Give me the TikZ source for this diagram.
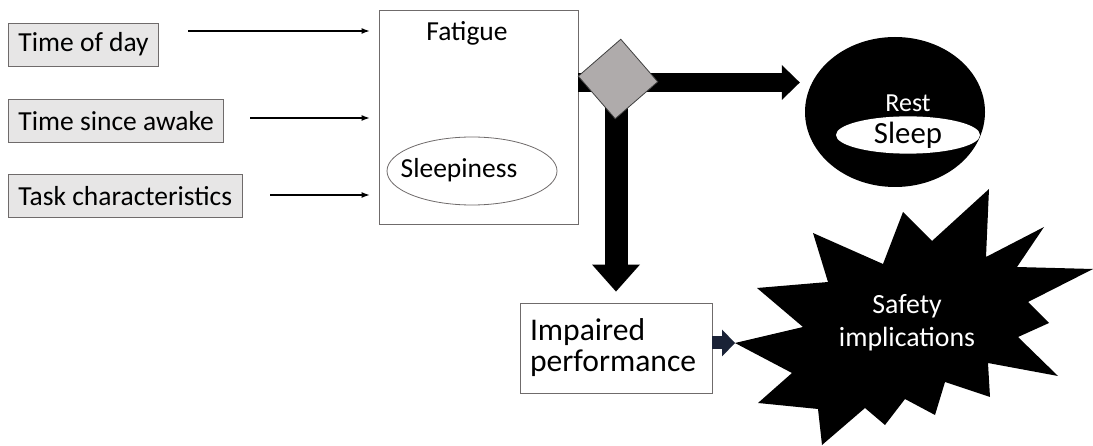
\documentclass[tikz,border=0pt]{standalone}
\usepackage{fontspec}
\setmainfont{Carlito}
\usepackage{xcolor}
\usepackage{tikz}
\usetikzlibrary{arrows.meta,positioning,shapes.geometric}
\definecolor{Stone}{HTML}{E7E6E6}
\definecolor{Edge}{HTML}{6F6B6B}
\definecolor{Pewter}{HTML}{AFABAB}
\definecolor{Ink}{HTML}{1A2236}

\begin{document}
\begin{tikzpicture}[
    x=1pt,y=-1pt,
    factor/.style={draw=Edge,line width=0.9pt,fill=Stone,inner xsep=10pt,inner ysep=0pt,
      minimum height=43pt,font=\fontsize{27.5}{30}\selectfont},
    framebox/.style={draw=Edge,line width=0.9pt,fill=white,inner sep=0pt},
    feed/.style={-{Latex[length=8pt,width=6pt]},line width=1.1pt,shorten >=9pt},
    bigarrow/.style={line width=#1,draw=black},
    restball/.style={ellipse,fill=black,inner sep=0pt,minimum width=180pt,minimum height=150pt},
    label/.style={font=\fontsize{27.5}{30}\selectfont,inner sep=0pt}
]
\useasboundingbox (0,0) rectangle (1093,446);

\node[factor,anchor=west] (tod) at (8,44.5) {Time of day};
\node[factor,below right=33pt and 0pt of tod.south west] (tsa) {Time since awake};
\node[factor,below right=31pt and 0pt of tsa.south west] (task) {Task characteristics};

\node[framebox,minimum width=199pt,minimum height=214pt] (fatigue) at (478.5,117) {};
\node[label] (fatiguetitle) at (467,33) {Fatigue};
\node[ellipse,draw=Edge,line width=0.8pt,inner sep=0pt,minimum width=170pt,
  minimum height=68pt] (sleepiness) at (472,171) {};
\node[label] (sleepinesstext) at (459,170) {Sleepiness};

\coordinate (f1) at (188,31);
\coordinate (f2) at (250,118);
\coordinate (f3) at (270,195);
\draw[feed] (f1) -- (f1 -| fatigue.west);
\draw[feed] (f2) -- (f2 -| fatigue.west);
\draw[feed] (f3) -- (f3 -| fatigue.west);

\node[restball] (rest) at (895,112) {};
\node[label,text=white,font=\fontsize{26}{28}\selectfont] (resttext) at (908,103) {Rest};
\node[ellipse,fill=white,inner sep=0pt,minimum width=144pt,minimum height=35pt,
  font=\fontsize{30.8}{32}\selectfont] (sleep) at (908,135) {Sleep};

\node[framebox,align=left,text width=172pt,inner xsep=10pt,minimum height=90pt,
  font=\fontsize{31.6}{31}\selectfont] (impaired) at (616,348) {Impaired\\performance};

\fill (735,343) -- (803,327) -- (757,288) -- (828,282) -- (813,233) -- (883,264)
  -- (903,212) -- (932,241) -- (989,189) -- (986,257) -- (1044,227) -- (1017,267)
  -- (1093,269) -- (1028,302) -- (1049,323) -- (1018,337) -- (1058,376) -- (988,363)
  -- (990,397) -- (945,382) -- (935,415) -- (905,399) -- (885,425) -- (865,408)
  -- (822,445) -- (818,409) -- (758,403) -- (792,373) -- cycle;
\coordinate (burst) at (735,343);
\node[align=center,text=white,font=\fontsize{27.8}{33}\selectfont] (safety) at (907,323) {Safety\\implications};

\coordinate (split) at (616,82.5);
\draw[bigarrow=19pt,-{Triangle[length=18pt,width=35pt,line width=0pt]}]
  (fatigue.east |- split) -- ([xshift=-5pt]rest.west |- split);
\draw[bigarrow=23pt,-{Triangle[length=27pt,width=48pt,line width=0pt]}]
  (split) -- ([yshift=11pt]impaired.north);
\draw[bigarrow=13pt,draw=Ink,-{Triangle[length=13pt,width=27pt,line width=0pt]}]
  (impaired.east |- burst) -- (burst);

\node[diamond,draw=black!75,line width=0.8pt,fill=Pewter,inner sep=0pt,
  minimum width=80pt,minimum height=80pt,rotate=-4] (gate) at (618,79) {};
\end{tikzpicture}
\end{document}
